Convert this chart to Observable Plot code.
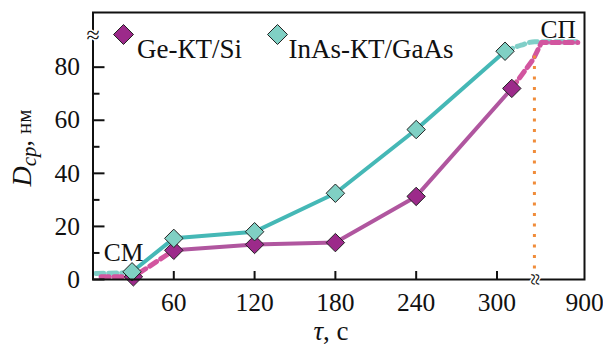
<!DOCTYPE html>
<html><head><meta charset="utf-8">
<script src="https://cdn.jsdelivr.net/npm/d3@7"></script>
<script src="https://cdn.jsdelivr.net/npm/@observablehq/plot@0.6"></script>
<style>
body{margin:0;background:#fff}
svg{display:block}
</style>
</head><body><div id="chart"></div>
<script>
// Ge-КТ/Si series (τ in s, D in nm)
const geTau = [30, 60, 120, 180, 240, 311];
const geD   = [1.0, 11.0, 13.2, 13.9, 31.3, 72.0];
// InAs-КТ/GaAs series
const inasTau = [29, 60, 120, 180, 240, 306];
const inasD   = [2.9, 15.5, 18.0, 32.5, 56.5, 86.0];
// dashed extrapolated parts
const geLeadTau = [6, 30];   const geLeadD = [1.0, 1.0];
const geTailTau = [327, 333, 360]; const geTailD = [83.0, 89.3, 89.3];
const inasLeadTau = [2, 22]; const inasLeadD = [2.3, 2.5];
const inasTailTau = [318, 328, 360]; const inasTailD = [88.3, 89.6, 89.6];
// ticks
const xTicks = [60, 120, 180, 240, 300, 365];
const xTickLabels = ["60", "120", "180", "240", "300", "900"];
const yMajor = [0, 20, 40, 60, 80];
const yMinor = [10, 30, 50, 70];
// annotations
const stopTau = [327.8]; const stopTop = 85.6;
const yBreak = [91.2]; const xBreak = [327.8];
const noteLeft = [{t: 8, d: 10, s: "СМ"}];
const noteRight = [{t: 345.5, d: 94.2, s: "СП"}];
const seriesNames = ["Ge-КТ/Si", "InAs-КТ/GaAs"];

const C = {geFill: "#9c2a8a", geLine: "#b0569f", geDash: "#d2559f",
           inFill: "#80d0c4", inLine: "#45b8b6", inDash: "#80cfc8", orange: "#f08c3a"};
const pts = (xs, ys) => xs.map((x, i) => ({x, y: ys[i]}));
const font = "Liberation Serif";

const geMain = pts(geTau, geD);
const inMain = pts(inasTau, inasD);
const geStart = [...pts(geLeadTau, geLeadD), geMain[0], geMain[1]];
const geEnd = [geMain[geMain.length - 1], ...pts(geTailTau, geTailD)];
const inStart = [...pts(inasLeadTau, inasLeadD), inMain[0]];
const inEnd = [inMain[inMain.length - 1], ...pts(inasTailTau, inasTailD)];

const T = {fontFamily: font, fill: "#111"};
const chart = Plot.plot({
  width: 603, height: 349,
  marginLeft: 92.5, marginRight: 19, marginTop: 12, marginBottom: 70,
  style: {background: "#fff", color: "#111"},
  x: {domain: [0, 365]},
  y: {domain: [0, 100.6]},
  marks: [
    Plot.line(inStart, {x: "x", y: "y", stroke: C.inDash, strokeWidth: 5, strokeDasharray: "8,5"}),
    Plot.line(geStart, {x: "x", y: "y", stroke: C.geDash, strokeWidth: 5, strokeDasharray: "8,5"}),
    Plot.line(inEnd, {x: "x", y: "y", stroke: C.inDash, strokeWidth: 5, strokeDasharray: "8,5", curve: "monotone-x"}),
    Plot.line(geEnd, {x: "x", y: "y", stroke: C.geDash, strokeWidth: 5, strokeDasharray: "8,5"}),
    Plot.line(inMain, {x: "x", y: "y", stroke: C.inLine, strokeWidth: 4}),
    Plot.line(geMain.slice(1), {x: "x", y: "y", stroke: C.geLine, strokeWidth: 4}),
    Plot.ruleX(stopTau, {x: d => d, y1: 0, y2: stopTop, stroke: C.orange, strokeWidth: 3, strokeDasharray: "3,7.5"}),
    Plot.dot(geMain, {x: "x", y: "y", symbol: "diamond2", r: 8.3, fill: C.geFill, stroke: "#222", strokeWidth: 1}),
    Plot.dot(inMain, {x: "x", y: "y", symbol: "diamond2", r: 8.3, fill: C.inFill, stroke: "#222", strokeWidth: 1}),
    Plot.frame({stroke: "#111", strokeWidth: 2}),
    Plot.axisY({ticks: yMajor, tickSize: -12, tickPadding: 25, fontSize: 25.5, strokeWidth: 2, label: null, ...T}),
    Plot.axisY({ticks: yMinor, tickSize: -7, tickFormat: () => "", strokeWidth: 2, label: null}),
    Plot.axisX({ticks: xTicks.slice(0, 5), tickSize: -8, tickFormat: () => "", strokeWidth: 2, label: null}),
    Plot.axisX({ticks: xTicks, tickSize: 0, tickPadding: 13, fontSize: 25.5, label: null, ...T,
                tickFormat: d => xTickLabels[xTicks.indexOf(d)]}),
    Plot.text(yBreak, {x: 0, y: d => d, text: () => "≈", fontSize: 24, ...T, stroke: "#fff", strokeWidth: 3, dy: -2}),
    Plot.text(xBreak, {x: d => d, y: 0, text: () => "≈", rotate: 90, fontSize: 22, ...T, stroke: "#fff", strokeWidth: 3, dx: 1}),
    Plot.text(noteLeft, {x: "t", y: "d", text: "s", textAnchor: "start", fontSize: 25.5, ...T}),
    Plot.text(noteRight, {x: "t", y: "d", text: "s", textAnchor: "middle", fontSize: 25.5, ...T}),
    // legend
    Plot.dot([seriesNames[0]], {frameAnchor: "top-left", dx: 30.5, dy: 22, symbol: "diamond2", r: 9, fill: C.geFill, stroke: "#222", strokeWidth: 1}),
    Plot.text([seriesNames[0]], {frameAnchor: "top-left", dx: 44, dy: 26, text: d => d, textAnchor: "start", fontSize: 27, ...T}),
    Plot.dot([seriesNames[1]], {frameAnchor: "top-left", dx: 184.5, dy: 22, symbol: "diamond2", r: 9, fill: C.inFill, stroke: "#222", strokeWidth: 1}),
    Plot.text([seriesNames[1]], {frameAnchor: "top-left", dx: 195.5, dy: 26, text: d => d, textAnchor: "start", fontSize: 27, ...T})
  ]
});

const svg = d3.select(chart).attr("font-family", font);
// y-axis title with subscript
const yl = svg.append("text").attr("transform", "translate(31,148) rotate(-90)")
  .attr("text-anchor", "middle").attr("fill", "#111");
yl.append("tspan").attr("font-style", "italic").attr("font-size", 28).text("D");
yl.append("tspan").attr("font-style", "italic").attr("font-size", 21).attr("dy", 5).text("cp");
yl.append("tspan").attr("font-size", 25).attr("dy", -5).text(", ");
yl.append("tspan").attr("font-size", 21).text("нм");
// x-axis title
const xl = svg.append("text").attr("x", 331).attr("y", 340)
  .attr("text-anchor", "middle").attr("fill", "#111").attr("font-size", 27);
xl.append("tspan").attr("font-style", "italic").text("τ");
xl.append("tspan").text(", с");
svg.selectAll("text").attr("font-family", font);

document.getElementById("chart").appendChild(chart);
</script>
</body></html>
